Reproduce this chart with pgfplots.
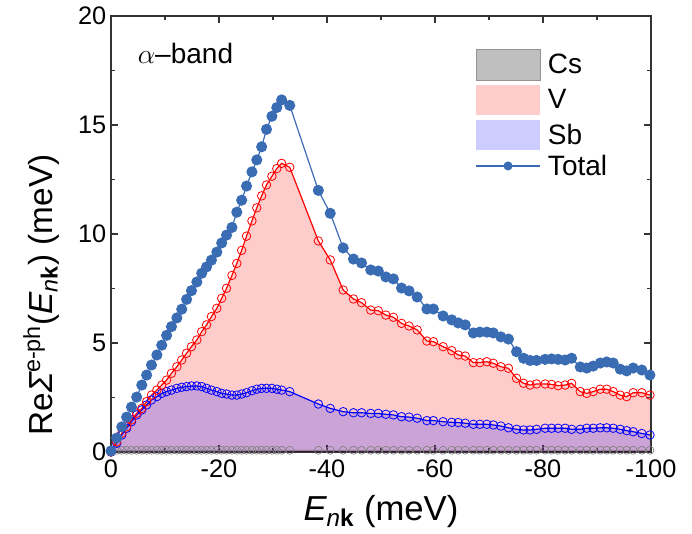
\documentclass[border=0pt]{standalone}
\usepackage{fontspec}
\setmainfont{Liberation Sans}
\usepackage{pgfplots}
\pgfplotsset{compat=1.18}
\usepackage{pgfplotstable}

\definecolor{totblue}{RGB}{58,108,180}
\definecolor{csgray}{RGB}{128,128,128}

% Real part of the e-ph self-energy of the alpha band, split by atom
\pgfplotstableread{
x      cs    v      sb    tot
0      0.00  0.00   0.00  0.05
-1.06  0.08  0.47   0.40  0.64
-2.0   0.08  0.86   0.78  1.15
-2.9   0.08  1.16   1.09  1.60
-3.8   0.08  1.47   1.39  2.06
-4.76  0.08  1.78   1.70  2.52
-5.7   0.08  2.00   1.93  3.07
-6.6   0.08  2.31   2.16  3.53
-7.5   0.08  2.61   2.39  3.99
-8.5   0.08  2.84   2.54  4.45
-9.4   0.08  3.07   2.69  4.90
-10.3  0.08  3.30   2.77  5.35
-11.2  0.08  3.61   2.84  5.75
-12.2  0.08  3.91   2.92  6.15
-13.1  0.08  4.22   2.97  6.55
-14.0  0.08  4.53   3.00  7.00
-14.9  0.08  4.83   3.03  7.40
-15.9  0.08  5.14   3.03  7.80
-16.8  0.08  5.52   3.00  8.20
-17.7  0.08  5.83   2.92  8.49
-18.6  0.08  6.21   2.84  8.80
-19.6  0.08  6.59   2.77  9.17
-20.5  0.08  7.05   2.69  9.59
-21.4  0.08  7.51   2.66  9.95
-22.4  0.08  8.10   2.61  10.30
-23.3  0.08  8.65   2.61  11.00
-24.2  0.08  9.25   2.66  11.55
-25.1  0.08  9.90   2.72  12.20
-26.1  0.08  10.60  2.81  12.85
-27.0  0.08  11.20  2.88  13.40
-27.9  0.08  11.75  2.92  14.00
-28.8  0.08  12.25  2.92  14.80
-29.8  0.08  12.65  2.92  15.40
-30.7  0.08  13.00  2.88  15.80
-31.6  0.08  13.24  2.84  16.15
-33.1  0.08  13.06  2.77  15.90
-38.4  0.08  9.68   2.20  12.00
-40.6  0.08  8.81   2.00  10.95
-43.0  0.08  7.43   1.85  9.36
-44.9  0.08  7.02   1.80  8.85
-46.4  0.08  6.85   1.80  8.67
-48.1  0.08  6.51   1.77  8.35
-49.5  0.08  6.48   1.77  8.30
-50.9  0.08  6.28   1.73  8.03
-52.3  0.08  6.18   1.70  7.94
-53.8  0.08  5.90   1.62  7.52
-55.2  0.08  5.78   1.60  7.39
-56.7  0.08  5.60   1.55  7.11
-58.5  0.08  5.09   1.44  6.56
-59.7  0.08  5.06   1.44  6.56
-61.5  0.08  4.83   1.39  6.24
-63.1  0.08  4.65   1.36  6.06
-64.3  0.08  4.45   1.35  5.92
-65.6  0.08  4.40   1.32  5.83
-67.1  0.08  4.10   1.27  5.46
-68.3  0.08  4.10   1.27  5.50
-69.6  0.08  4.14   1.27  5.50
-70.8  0.08  4.07   1.24  5.46
-72.2  0.08  3.91   1.19  5.28
-73.6  0.08  3.84   1.11  5.18
-75.1  0.08  3.38   1.04  4.60
-76.4  0.08  3.15   1.01  4.30
-77.6  0.08  3.07   1.01  4.20
-78.8  0.08  3.12   1.04  4.20
-80.4  0.08  3.12   1.09  4.25
-81.6  0.08  3.10   1.09  4.27
-82.8  0.08  3.04   1.09  4.25
-84.1  0.08  3.07   1.09  4.22
-85.3  0.08  3.15   1.04  4.30
-86.9  0.08  2.77   1.04  3.90
-88.1  0.08  2.69   1.09  3.85
-89.3  0.08  2.77   1.09  3.94
-90.6  0.08  2.88   1.11  4.08
-91.8  0.08  2.88   1.11  4.13
-93.0  0.08  2.77   1.09  4.08
-94.3  0.08  2.61   1.04  3.80
-95.5  0.08  2.54   0.98  3.72
-96.7  0.08  2.72   0.93  3.85
-98.3  0.08  2.72   0.85  3.76
-99.8  0.08  2.61   0.78  3.53
}\selfenergy

\begin{document}
\begin{tikzpicture}
\begin{axis}[
  scale only axis, width=405pt, height=327pt,
  xmin=-100, xmax=0, x dir=reverse,
  ymin=0, ymax=20,
  xtick={-100,-80,-60,-40,-20,0},
  xticklabels={-100,-80,-60,-40,-20,0},
  ytick={0,5,10,15,20},
  yticklabels={0,5,10,15,20},
  minor x tick num=1, minor y tick num=1,
  tick align=inside,
  major tick length=5pt, minor tick length=3pt,
  axis line style={line width=1pt, black!80},
  tick style={line width=0.8pt, black!80},
  tick label style={font=\fontsize{19}{19}\selectfont},
  xticklabel style={yshift=-2pt},
  xlabel={{\itshape E}\textsubscript{{\itshape n}\textbf{k}} (meV)},
  ylabel={Re{\itshape Σ}\textsuperscript{e-ph}({\itshape E}\textsubscript{{\itshape n}\textbf{k}}) (meV)},
  xlabel style={font=\fontsize{26}{26}\selectfont, at={(axis description cs:0.5,-0.156)}, anchor=base},
  ylabel style={font=\fontsize{25}{25}\selectfont, at={(axis description cs:-0.109,0.36)}, anchor=base},
  legend style={at={(axis description cs:0.667,0.931)}, anchor=north west,
    draw=none, fill=none, font=\fontsize{21}{21}\selectfont,
    row sep=3.25pt, column sep=5.5pt, nodes={inner sep=0pt}},
  legend cell align=left,
]
% stacked contribution areas
\addplot[draw=none, fill=red, fill opacity=0.2, forget plot] table[x=x, y=v] {\selfenergy} \closedcycle;
\addplot[draw=none, fill=blue, fill opacity=0.2, forget plot] table[x=x, y=sb] {\selfenergy} \closedcycle;
\addplot[draw=none, fill=black, fill opacity=0.2, forget plot] table[x=x, y=cs] {\selfenergy} \closedcycle;
% curves with markers
\addplot[csgray, line width=0.6pt, mark=o, mark size=3pt, mark options={line width=0.5pt}, forget plot] table[x=x, y=cs] {\selfenergy};
\addplot[blue, line width=0.9pt, mark=o, mark size=3.2pt, mark options={line width=0.6pt}, forget plot] table[x=x, y=sb] {\selfenergy};
\addplot[red, line width=0.9pt, mark=o, mark size=3.2pt, mark options={line width=0.6pt}, forget plot] table[x=x, y=v] {\selfenergy};
\addplot[totblue, line width=0.9pt, mark=*, mark size=3.7pt, forget plot] table[x=x, y=tot] {\selfenergy};
% legend
\addlegendimage{legend image code/.code={\path[fill=gray!50, draw=gray!85, line width=0.6pt] (0pt,-11.5pt) rectangle (48pt,11.5pt);}}
\addlegendimage{legend image code/.code={\path[draw=none, fill=red, fill opacity=0.2] (0pt,-11.5pt) rectangle (48pt,11.5pt);}}
\addlegendimage{legend image code/.code={\path[draw=none, fill=blue, fill opacity=0.2] (0pt,-11.5pt) rectangle (48pt,11.5pt);}}
\addlegendimage{legend image code/.code={\draw[totblue, line width=0.9pt] (0pt,0pt) -- (48pt,0pt); \path[draw=none, fill=totblue] (24pt,0pt) circle (3.4pt);}}
\legend{Cs,V,Sb,Total}
\node[anchor=base west, font=\fontsize{21}{21}\selectfont] at (axis description cs:0.041,0.892) {$\alpha$–band};
\coordinate (sw) at (axis description cs:0,0);
\coordinate (ne) at (axis description cs:1,1);
\end{axis}
\path ([xshift=-83.25pt,yshift=-61.5pt]sw) rectangle ([xshift=30.75pt,yshift=12pt]ne);
\end{tikzpicture}
\end{document}
